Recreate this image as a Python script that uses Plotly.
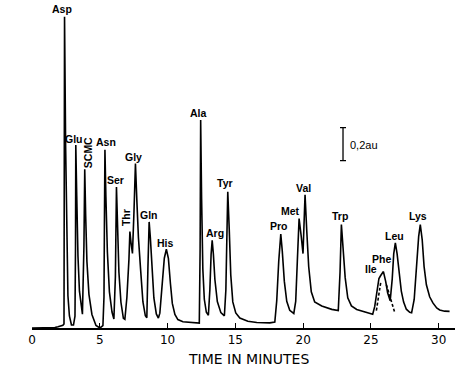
import plotly.graph_objects as go

# Chromatogram trace (time in minutes, absorbance in au above baseline axis)
time_min = [0.00, 0.96, 1.69, 1.92, 2.14, 2.28, 2.36, 2.40, 2.48, 2.56, 2.65, 2.76, 2.91, 3.06, 3.17, 3.21,
            3.23, 3.30, 3.39, 3.50, 3.65, 3.72, 3.83, 3.89, 3.96, 4.05, 4.20, 4.42, 4.72, 5.01, 5.23, 5.31,
            5.34, 5.38, 5.45, 5.56, 5.71, 5.90, 6.04, 6.15, 6.23, 6.30, 6.41, 6.56, 6.74, 6.85, 7.00, 7.15,
            7.22, 7.30, 7.41, 7.52, 7.63, 7.74, 7.85, 8.00, 8.18, 8.36, 8.47, 8.55, 8.64, 8.73, 8.84, 8.99,
            9.17, 9.32, 9.43, 9.62, 9.76, 9.91, 10.06, 10.21, 10.35, 10.54, 10.76, 11.13, 12.01, 12.34, 12.40,
            12.44, 12.51, 12.60, 12.71, 12.86, 13.01, 13.12, 13.21, 13.29, 13.38, 13.49, 13.67, 13.93, 14.19,
            14.30, 14.37, 14.44, 14.55, 14.66, 14.81, 15.03, 15.33, 15.92, 16.58, 17.54, 17.91, 18.05, 18.20,
            18.35, 18.46, 18.61, 18.79, 19.01, 19.31, 19.45, 19.57, 19.70, 19.86, 19.99, 20.07, 20.14, 20.27,
            20.41, 20.60, 20.85, 21.37, 22.11, 22.59, 22.72, 22.82, 22.95, 23.10, 23.29, 23.56, 23.95, 24.54,
            25.13, 25.28, 25.46, 25.59, 25.72, 25.92, 26.09, 26.23, 26.42, 26.57, 26.68, 26.80, 26.93, 27.08,
            27.24, 27.41, 27.61, 27.86, 28.00, 28.19, 28.37, 28.52, 28.64, 28.78, 28.92, 29.09, 29.33, 29.57,
            29.85, 30.07, 30.43, 30.80]
absorbance_au = [0.000, 0.001, 0.003, 0.008, 0.014, 0.017, 0.025, 1.886, 1.104, 0.498, 0.195, 0.073, 0.018,
                 0.018, 0.072, 0.497, 1.109, 0.800, 0.436, 0.223, 0.114, 0.084, 0.495, 0.962, 0.677, 0.404,
                 0.204, 0.082, 0.015, 0.000, 0.014, 0.189, 0.614, 1.080, 0.795, 0.461, 0.219, 0.097, 0.054,
                 0.309, 0.854, 0.612, 0.339, 0.156, 0.059, 0.053, 0.186, 0.416, 0.585, 0.519, 0.452, 0.700,
                 0.997, 0.760, 0.548, 0.366, 0.159, 0.074, 0.062, 0.365, 0.643, 0.546, 0.364, 0.182, 0.085,
                 0.060, 0.090, 0.271, 0.423, 0.477, 0.422, 0.270, 0.149, 0.082, 0.051, 0.038, 0.030, 0.030,
                 0.478, 1.260, 0.781, 0.357, 0.174, 0.095, 0.077, 0.234, 0.446, 0.531, 0.446, 0.294, 0.160,
                 0.093, 0.074, 0.232, 0.535, 0.825, 0.595, 0.322, 0.158, 0.091, 0.060, 0.041, 0.033, 0.031,
                 0.036, 0.164, 0.406, 0.569, 0.466, 0.284, 0.162, 0.107, 0.088, 0.161, 0.403, 0.663, 0.554,
                 0.451, 0.644, 0.808, 0.583, 0.371, 0.219, 0.158, 0.133, 0.113, 0.106, 0.336, 0.627, 0.487,
                 0.305, 0.183, 0.134, 0.112, 0.096, 0.083, 0.131, 0.239, 0.300, 0.318, 0.342, 0.281, 0.214,
                 0.165, 0.298, 0.449, 0.516, 0.449, 0.327, 0.224, 0.157, 0.114, 0.095, 0.092, 0.173, 0.385,
                 0.555, 0.627, 0.536, 0.372, 0.262, 0.189, 0.152, 0.121, 0.109, 0.102, 0.101]

# Dashed resolution of the Ile / Phe pair
dashed_time = [25.40, 25.57, 25.72, None, 26.14, 26.42, 26.75]
dashed_au = [0.106, 0.197, 0.275, None, 0.262, 0.183, 0.095]

# Peak identities
peak_names = ["Asp", "Glu", "SCMC", "Asn", "Ser", "Thr", "Gly", "Gln", "His", "Ala", "Arg", "Tyr",
              "Pro", "Met", "Val", "Trp", "Ile", "Phe", "Leu", "Lys"]
peak_times = [2.40, 3.23, 3.89, 5.38, 6.23, 7.22, 7.63, 8.64, 9.91, 12.44, 13.29, 14.44,
              18.35, 19.70, 20.14, 22.82, 25.59, 25.92, 26.80, 28.64]
peak_heights = [1.886, 1.109, 0.962, 1.080, 0.854, 0.585, 0.997, 0.643, 0.477, 1.260, 0.531, 0.825,
                0.569, 0.663, 0.808, 0.627, 0.300, 0.342, 0.516, 0.627]

tick_values = [0, 5, 10, 15, 20, 25, 30]
tick_labels = ["0", "5", "10", "15", "20", "25", "30"]

scale_bar_au = 0.2
scale_bar_time = 22.94
scale_bar_center = 1.114

# label styling: (x shift px, y shift px, text angle)
label_style = {
    "Asp": (-2.6, 7.7, 0), "Glu": (-1.8, 6.3, 0), "SCMC": (3.5, 16.3, -90), "Asn": (1.3, 8, 0),
    "Ser": (-0.5, 6.7, 0), "Thr": (-3.3, 14, -90), "Gly": (-1.5, 6.7, 0), "Gln": (-0.2, 7.3, 0),
    "His": (-0.5, 6.7, 0), "Ala": (-2.1, 7, 0), "Arg": (2.4, 7.7, 0), "Tyr": (-2.5, 8.7, 0),
    "Pro": (-2, 8, 0), "Met": (-8.8, 7.7, 0), "Val": (-1.3, 7, 0), "Trp": (-1.7, 8.7, 0),
    "Ile": (-7.6, 9.3, 0), "Phe": (-2.1, 13, 0), "Leu": (-1.2, 7.3, 0), "Lys": (-2, 8.3, 0),
}

fig = go.Figure()
fig.add_trace(go.Scatter(x=time_min, y=absorbance_au, mode="lines",
                         line=dict(color="black", width=1.6), hoverinfo="skip"))
fig.add_trace(go.Scatter(x=dashed_time, y=dashed_au, mode="lines",
                         line=dict(color="black", width=1.6, dash="3px,2px"), hoverinfo="skip"))
# 0.2 au scale bar
fig.add_trace(go.Scatter(x=[scale_bar_time], y=[scale_bar_center], mode="markers",
                         marker=dict(size=0.1, color="black"),
                         error_y=dict(type="constant", value=scale_bar_au / 2, color="black",
                                      thickness=1.3, width=3), hoverinfo="skip"))

annotations = []
for name, t, h in zip(peak_names, peak_times, peak_heights):
    dx, dy, ang = label_style[name]
    annotations.append(dict(x=t, y=h, xref="x", yref="y", text="<b>" + name + "</b>", showarrow=False,
                            xanchor="center", yanchor="middle", xshift=dx, yshift=dy, textangle=ang,
                            font=dict(family="Liberation Sans", size=10.5, color="black")))
annotations.append(dict(x=scale_bar_time, y=scale_bar_center, xref="x", yref="y", text="0,2au",
                        showarrow=False, xanchor="left", yanchor="middle", xshift=5, yshift=-1,
                        font=dict(family="Liberation Sans", size=11, color="black")))
annotations.append(dict(x=0.513, y=-0.096, xref="paper", yref="paper", text="TIME IN MINUTES",
                        showarrow=False, xanchor="center", yanchor="middle",
                        font=dict(family="DejaVu Sans", size=14, color="black")))

fig.update_layout(
    width=468, height=375,
    margin=dict(l=32, r=13, t=4, b=47),
    paper_bgcolor="white", plot_bgcolor="white",
    showlegend=False,
    annotations=annotations,
    xaxis=dict(range=[0, 31.2], showgrid=False, zeroline=False, showline=True,
               linecolor="black", linewidth=1.5, ticks="inside", ticklen=5, tickwidth=1.2,
               tickcolor="black", tickvals=tick_values, ticktext=tick_labels,
               tickfont=dict(family="DejaVu Sans", size=12, color="black")),
    yaxis=dict(range=[0, 1.9636], visible=False, showgrid=False, zeroline=False),
)

fig.write_html("out.html", config={"displayModeBar": False},
               post_script="document.body.style.margin='0px';")
